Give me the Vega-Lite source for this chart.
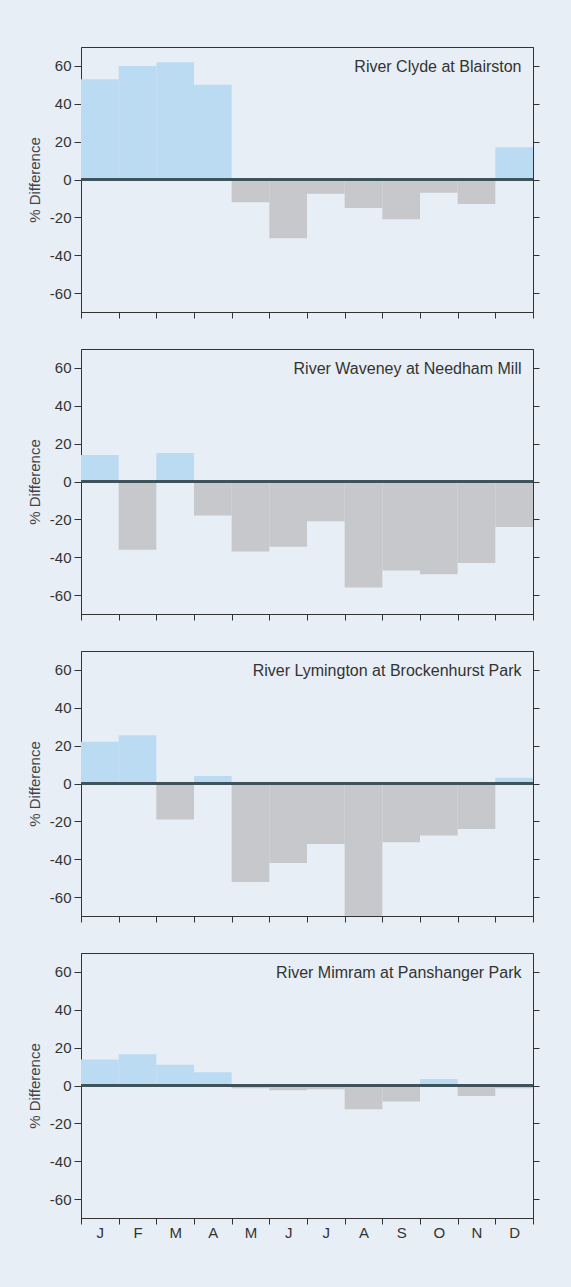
{
  "$schema": "https://vega.github.io/schema/vega-lite/v6.json",
  "background": "#e8eef5",
  "padding": {"left": 26, "top": 46, "right": 34, "bottom": 50},
  "spacing": 29,
  "config": {
    "font": "Liberation Sans",
    "view": {"stroke": "#333333", "strokeWidth": 1},
    "axis": {
      "domainColor": "#333333",
      "tickColor": "#333333",
      "labelColor": "#333333",
      "titleColor": "#444444",
      "labelFont": "Liberation Sans",
      "titleFont": "Liberation Sans",
      "labelFontSize": 15,
      "titleFontSize": 15,
      "titleFontWeight": "normal",
      "grid": false
    },
    "title": {"font": "Liberation Sans", "fontSize": 16, "fontWeight": "normal", "color": "#333333"}
  },
  "datasets": {
    "d": [
      {"river": "Clyde", "month": "Jan", "diff": 53},
      {"river": "Clyde", "month": "Feb", "diff": 60},
      {"river": "Clyde", "month": "Mar", "diff": 62},
      {"river": "Clyde", "month": "Apr", "diff": 50},
      {"river": "Clyde", "month": "May", "diff": -12},
      {"river": "Clyde", "month": "Jun", "diff": -31},
      {"river": "Clyde", "month": "Jul", "diff": -7.5},
      {"river": "Clyde", "month": "Aug", "diff": -15},
      {"river": "Clyde", "month": "Sep", "diff": -21},
      {"river": "Clyde", "month": "Oct", "diff": -7},
      {"river": "Clyde", "month": "Nov", "diff": -13},
      {"river": "Clyde", "month": "Dec", "diff": 17},
      {"river": "Waveney", "month": "Jan", "diff": 14},
      {"river": "Waveney", "month": "Feb", "diff": -36},
      {"river": "Waveney", "month": "Mar", "diff": 15},
      {"river": "Waveney", "month": "Apr", "diff": -18},
      {"river": "Waveney", "month": "May", "diff": -37},
      {"river": "Waveney", "month": "Jun", "diff": -34.5},
      {"river": "Waveney", "month": "Jul", "diff": -21},
      {"river": "Waveney", "month": "Aug", "diff": -56},
      {"river": "Waveney", "month": "Sep", "diff": -47},
      {"river": "Waveney", "month": "Oct", "diff": -49},
      {"river": "Waveney", "month": "Nov", "diff": -43},
      {"river": "Waveney", "month": "Dec", "diff": -24},
      {"river": "Lymington", "month": "Jan", "diff": 22},
      {"river": "Lymington", "month": "Feb", "diff": 25.5},
      {"river": "Lymington", "month": "Mar", "diff": -19},
      {"river": "Lymington", "month": "Apr", "diff": 4},
      {"river": "Lymington", "month": "May", "diff": -52},
      {"river": "Lymington", "month": "Jun", "diff": -42},
      {"river": "Lymington", "month": "Jul", "diff": -32},
      {"river": "Lymington", "month": "Aug", "diff": -72},
      {"river": "Lymington", "month": "Sep", "diff": -31},
      {"river": "Lymington", "month": "Oct", "diff": -27.5},
      {"river": "Lymington", "month": "Nov", "diff": -24},
      {"river": "Lymington", "month": "Dec", "diff": 3},
      {"river": "Mimram", "month": "Jan", "diff": 13.7},
      {"river": "Mimram", "month": "Feb", "diff": 16.5},
      {"river": "Mimram", "month": "Mar", "diff": 11},
      {"river": "Mimram", "month": "Apr", "diff": 7},
      {"river": "Mimram", "month": "May", "diff": -1.5},
      {"river": "Mimram", "month": "Jun", "diff": -2.5},
      {"river": "Mimram", "month": "Jul", "diff": -2},
      {"river": "Mimram", "month": "Aug", "diff": -12.5},
      {"river": "Mimram", "month": "Sep", "diff": -8.5},
      {"river": "Mimram", "month": "Oct", "diff": 3.5},
      {"river": "Mimram", "month": "Nov", "diff": -5.5},
      {"river": "Mimram", "month": "Dec", "diff": -1.5}
    ]
  },
  "vconcat": [
    {
      "width": 452, "height": 265,
      "title": {"text": "River Clyde at Blairston", "anchor": "end", "orient": "top", "offset": -28, "dx": -18, "baseline": "top"},
      "data": {"name": "d"},
      "transform": [{"filter": "datum.river === 'Clyde'"}],
      "resolve": {"axis": {"y": "independent"}},
      "layer": [
        {
          "mark": {"type": "bar", "clip": true},
          "encoding": {
            "x": {"field": "month", "type": "ordinal", "sort": ["Jan","Feb","Mar","Apr","May","Jun","Jul","Aug","Sep","Oct","Nov","Dec"], "scale": {"paddingInner": 0, "paddingOuter": 0}, "axis": {"title": null, "labels": false, "tickBand": "extent", "tickSize": 6}},
            "y": {"field": "diff", "type": "quantitative", "scale": {"domain": [-70, 70], "nice": false}, "axis": {"title": "% Difference", "values": [-60,-40,-20,0,20,40,60], "labelExpr": "'' + datum.value", "tickSize": 7, "labelPadding": 3, "titlePadding": 7}},
            "color": {"condition": {"test": "datum.diff > 0", "value": "#badbf2"}, "value": "#c6c8cb"}
          }
        },
        {
          "mark": {"type": "rule", "color": "#3f5257", "strokeWidth": 1.5},
          "encoding": {
            "y": {"datum": 0, "type": "quantitative", "axis": {"orient": "right", "title": null, "labels": false, "values": [-60,-40,-20,0,20,40,60], "tickSize": 6}}
          }
        }
      ]
    },
    {
      "width": 452, "height": 265,
      "title": {"text": "River Waveney at Needham Mill", "anchor": "end", "orient": "top", "offset": -28, "dx": -18, "baseline": "top"},
      "data": {"name": "d"},
      "transform": [{"filter": "datum.river === 'Waveney'"}],
      "resolve": {"axis": {"y": "independent"}},
      "layer": [
        {
          "mark": {"type": "bar", "clip": true},
          "encoding": {
            "x": {"field": "month", "type": "ordinal", "sort": ["Jan","Feb","Mar","Apr","May","Jun","Jul","Aug","Sep","Oct","Nov","Dec"], "scale": {"paddingInner": 0, "paddingOuter": 0}, "axis": {"title": null, "labels": false, "tickBand": "extent", "tickSize": 6}},
            "y": {"field": "diff", "type": "quantitative", "scale": {"domain": [-70, 70], "nice": false}, "axis": {"title": "% Difference", "values": [-60,-40,-20,0,20,40,60], "labelExpr": "'' + datum.value", "tickSize": 7, "labelPadding": 3, "titlePadding": 7}},
            "color": {"condition": {"test": "datum.diff > 0", "value": "#badbf2"}, "value": "#c6c8cb"}
          }
        },
        {
          "mark": {"type": "rule", "color": "#3f5257", "strokeWidth": 1.5},
          "encoding": {
            "y": {"datum": 0, "type": "quantitative", "axis": {"orient": "right", "title": null, "labels": false, "values": [-60,-40,-20,0,20,40,60], "tickSize": 6}}
          }
        }
      ]
    },
    {
      "width": 452, "height": 265,
      "title": {"text": "River Lymington at Brockenhurst Park", "anchor": "end", "orient": "top", "offset": -28, "dx": -18, "baseline": "top"},
      "data": {"name": "d"},
      "transform": [{"filter": "datum.river === 'Lymington'"}],
      "resolve": {"axis": {"y": "independent"}},
      "layer": [
        {
          "mark": {"type": "bar", "clip": true},
          "encoding": {
            "x": {"field": "month", "type": "ordinal", "sort": ["Jan","Feb","Mar","Apr","May","Jun","Jul","Aug","Sep","Oct","Nov","Dec"], "scale": {"paddingInner": 0, "paddingOuter": 0}, "axis": {"title": null, "labels": false, "tickBand": "extent", "tickSize": 6}},
            "y": {"field": "diff", "type": "quantitative", "scale": {"domain": [-70, 70], "nice": false}, "axis": {"title": "% Difference", "values": [-60,-40,-20,0,20,40,60], "labelExpr": "'' + datum.value", "tickSize": 7, "labelPadding": 3, "titlePadding": 7}},
            "color": {"condition": {"test": "datum.diff > 0", "value": "#badbf2"}, "value": "#c6c8cb"}
          }
        },
        {
          "mark": {"type": "rule", "color": "#3f5257", "strokeWidth": 1.5},
          "encoding": {
            "y": {"datum": 0, "type": "quantitative", "axis": {"orient": "right", "title": null, "labels": false, "values": [-60,-40,-20,0,20,40,60], "tickSize": 6}}
          }
        }
      ]
    },
    {
      "width": 452, "height": 265,
      "title": {"text": "River Mimram at Panshanger Park", "anchor": "end", "orient": "top", "offset": -28, "dx": -18, "baseline": "top"},
      "data": {"name": "d"},
      "transform": [{"filter": "datum.river === 'Mimram'"}],
      "resolve": {"axis": {"y": "independent"}},
      "layer": [
        {
          "mark": {"type": "bar", "clip": true},
          "encoding": {
            "x": {"field": "month", "type": "ordinal", "sort": ["Jan","Feb","Mar","Apr","May","Jun","Jul","Aug","Sep","Oct","Nov","Dec"], "scale": {"paddingInner": 0, "paddingOuter": 0}, "axis": {"title": null, "labels": true, "labelAngle": 0, "labelExpr": "substring(datum.label, 0, 1)", "tickBand": "extent", "tickSize": 6, "labelPadding": 1}},
            "y": {"field": "diff", "type": "quantitative", "scale": {"domain": [-70, 70], "nice": false}, "axis": {"title": "% Difference", "values": [-60,-40,-20,0,20,40,60], "labelExpr": "'' + datum.value", "tickSize": 7, "labelPadding": 3, "titlePadding": 7}},
            "color": {"condition": {"test": "datum.diff > 0", "value": "#badbf2"}, "value": "#c6c8cb"}
          }
        },
        {
          "mark": {"type": "rule", "color": "#3f5257", "strokeWidth": 1.5},
          "encoding": {
            "y": {"datum": 0, "type": "quantitative", "axis": {"orient": "right", "title": null, "labels": false, "values": [-60,-40,-20,0,20,40,60], "tickSize": 6}}
          }
        }
      ]
    }
  ]
}
